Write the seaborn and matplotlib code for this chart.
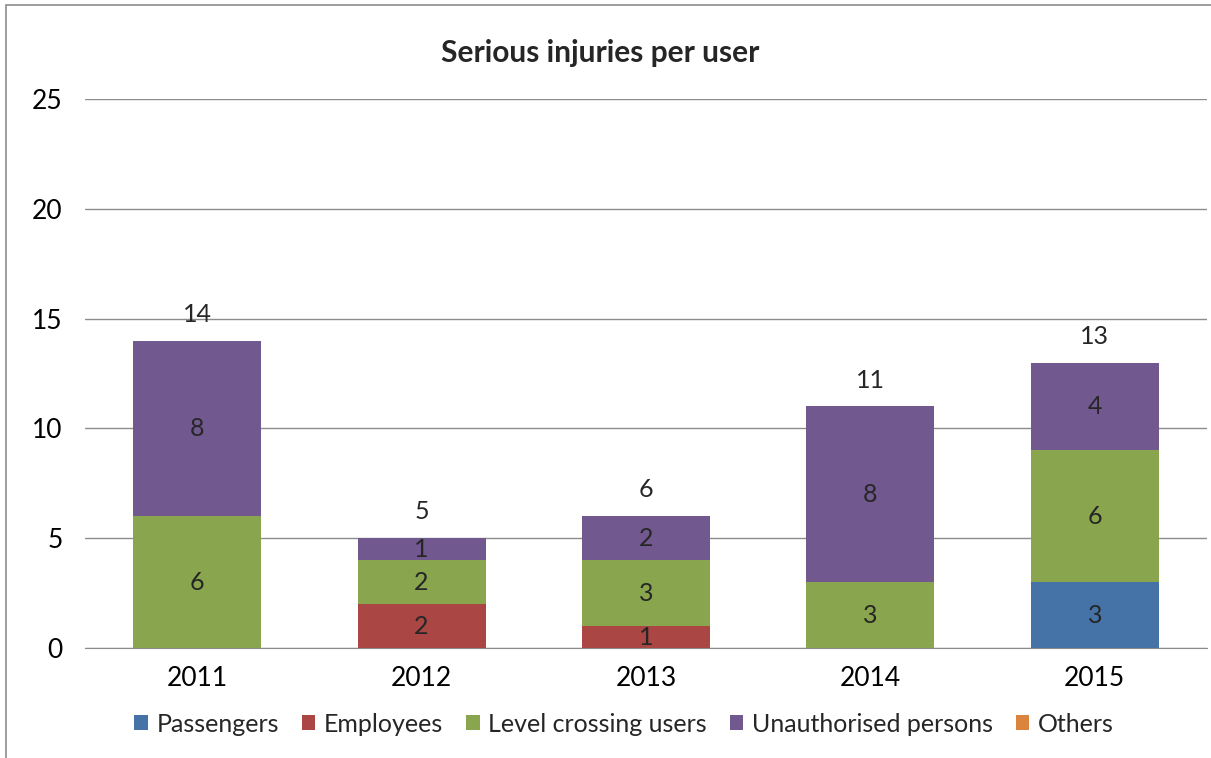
import matplotlib
matplotlib.use("Agg")
import matplotlib.pyplot as plt
from matplotlib.patches import Patch, Rectangle
import seaborn as sns
import pandas as pd
import numpy as np

# Datos
years = ["2011", "2012", "2013", "2014", "2015"]
series = ["Passengers", "Employees", "Level crossing users", "Unauthorised persons", "Others"]
passengers = [0, 0, 0, 0, 3]
employees = [0, 2, 1, 0, 0]
level_crossing = [6, 2, 3, 3, 6]
unauthorised = [8, 1, 2, 8, 4]
others = [0, 0, 0, 0, 0]
colors = ["#4572A7", "#AA4643", "#89A54E", "#71588F", "#DB843D"]

values = [passengers, employees, level_crossing, unauthorised, others]
df = pd.DataFrame(dict(zip(series, values)), index=years)
cum = df.cumsum(axis=1)
totals = df.sum(axis=1)

sns.set_style("white")
plt.rcParams["font.family"] = ["Lato", "DejaVu Sans"]

fig = plt.figure(figsize=(12.11, 7.58), dpi=100)
ax = fig.add_axes([85 / 1211, 1 - 648 / 758, 1122 / 1211, 549 / 758])

# barras apiladas: se dibujan los acumulados de arriba hacia abajo
for s, c in reversed(list(zip(series, colors))):
    if df[s].sum() == 0:
        continue
    sns.barplot(x=years, y=cum[s].values, color=c, width=0.57, ax=ax,
                saturation=1, linewidth=0, zorder=3)

# etiquetas dentro de cada segmento
for i, y in enumerate(years):
    for s in series:
        v = df.loc[y, s]
        if v > 0:
            mid = cum.loc[y, s] - v / 2
            ax.text(i, mid, str(v), ha="center", va="center", fontsize=18, zorder=4)
    ax.annotate(str(totals[y]), (i, totals[y]), xytext=(0, 19), textcoords="offset points",
                ha="center", va="center", fontsize=18)

ax.set_ylim(0, 25)
ax.set_xlim(-0.5, 4.5)
ax.set_yticks(range(0, 26, 5))
ax.yaxis.grid(True, color="#8c8c8c", linewidth=1)
ax.set_axisbelow(True)
for sp in ["left", "right", "top"]:
    ax.spines[sp].set_visible(False)
ax.spines["bottom"].set_color("#8c8c8c")
ax.tick_params(axis="both", length=0, labelsize=19, colors="black")
ax.tick_params(axis="y", pad=16)
ax.tick_params(axis="x", pad=13)
ax.set_xlabel("")
ax.set_ylabel("")

fig.text(600 / 1211, 1 - 53 / 758, "Serious injuries per user", ha="center", va="center",
         fontsize=21.5, fontweight="bold")

handles = [Patch(facecolor=c, edgecolor="none") for c in colors]
fig.legend(handles, series, loc="center", bbox_to_anchor=(624 / 1211, 1 - 724 / 758),
           ncol=5, frameon=False, fontsize=18, handlelength=0.55, handleheight=0.55,
           handletextpad=0.35, columnspacing=0.9)

# marco del grafico
fig.patches.append(Rectangle((6 / 1211, -0.01), 1.1, 1 - 5 / 758 + 0.01, transform=fig.transFigure,
                             fill=False, edgecolor="#8c8c8c", linewidth=1.2))

fig.savefig("out.png", dpi=100)
